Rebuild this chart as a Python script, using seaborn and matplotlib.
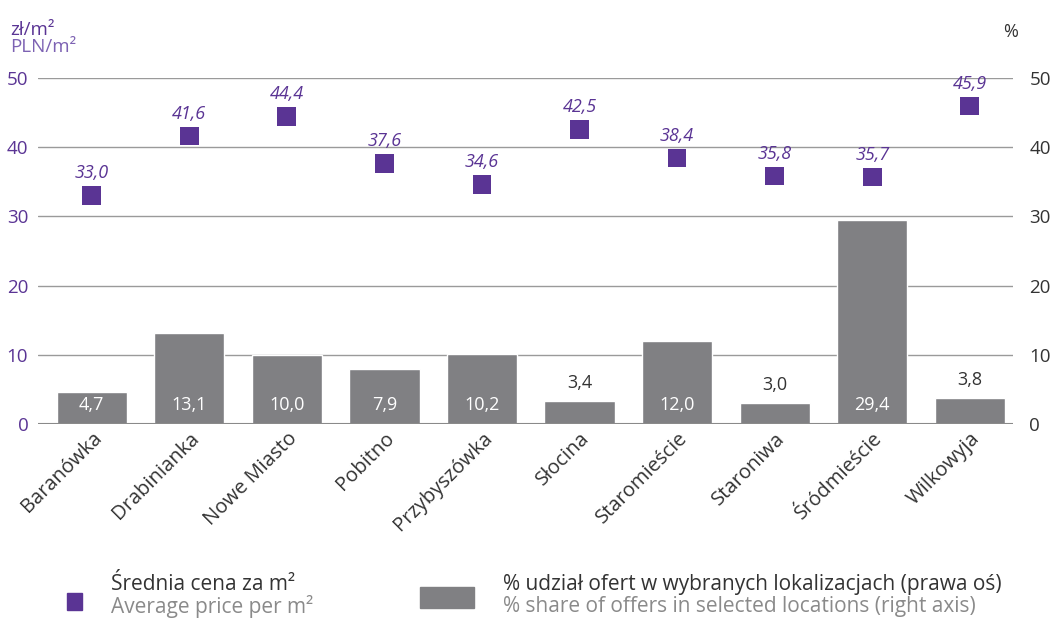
import numpy as np
import pandas as pd
import matplotlib
matplotlib.use("Agg")
import matplotlib.pyplot as plt
import seaborn as sns
from matplotlib.patches import Rectangle

# dane
dzielnice = ['Baranówka', 'Drabinianka', 'Nowe Miasto', 'Pobitno', 'Przybyszówka',
             'Słocina', 'Staromieście', 'Staroniwa', 'Śródmieście', 'Wilkowyja']
srednia_cena = [33.0, 41.6, 44.4, 37.6, 34.6, 42.5, 38.4, 35.8, 35.7, 45.9]
udzial_ofert = [4.7, 13.1, 10.0, 7.9, 10.2, 3.4, 12.0, 3.0, 29.4, 3.8]
y_ticks = [0, 10, 20, 30, 40, 50]

FIOLET = '#5a3494'
FIOLET_JASNY = '#7d62b3'
SZARY = '#808083'
TEKST = '#333333'

sns.set_theme(style="white")
plt.rcParams['font.family'] = ['Open Sans', 'DejaVu Sans']

df = pd.DataFrame({'Dzielnica': dzielnice, 'Cena': srednia_cena, 'Udzial': udzial_ofert})

fig = plt.figure(figsize=(10.56, 6.22), dpi=100)
ax = fig.add_axes([0.036, 0.318, 0.923, 0.557])
ax2 = ax.twinx()

# slupki - prawa os (%)
sns.barplot(data=df, x='Dzielnica', y='Udzial', color=SZARY, width=0.72,
            saturation=1, ax=ax2, zorder=2)

# punkty - lewa os (zl/m2)
sns.scatterplot(data=df, x='Dzielnica', y='Cena', marker='s', s=180, color=FIOLET,
                edgecolor='none', ax=ax, zorder=5)

ax.set_zorder(ax2.get_zorder() + 1)
ax.patch.set_visible(False)

for a in (ax, ax2):
    a.set_ylim(0, 50)
    a.set_xlim(-0.55, 9.44)
    a.set_yticks(y_ticks)
    a.set_xlabel('')
    a.set_ylabel('')
    for s in a.spines.values():
        s.set_visible(False)
    a.grid(False)

# linie siatki
for t in y_ticks[1:]:
    ax2.axhline(t, color='#9a9a9a', lw=1, zorder=0)
ax2.axhline(0, color='#8a8a8a', lw=1.5, zorder=3)

ax.tick_params(axis='y', length=0, pad=7, labelsize=13.5, labelcolor=FIOLET)
ax2.tick_params(axis='y', length=0, pad=12, labelsize=13.5, labelcolor=TEKST)
ax.tick_params(axis='x', length=0, pad=3, labelsize=14.5, labelcolor=TEKST)
plt.setp(ax.get_xticklabels(), rotation=45, ha='right', rotation_mode='anchor')
ax2.tick_params(axis='x', length=0, labelbottom=False)

# etykiety slupkow
for i, v in enumerate(udzial_ofert):
    txt = f"{v:.1f}".replace('.', ',')
    if v >= 4:
        ax2.annotate(txt, (i, 0), xytext=(0, 14), textcoords='offset points',
                     ha='center', va='center', color='white', fontsize=13, zorder=4)
    else:
        ax2.annotate(txt, (i, v), xytext=(0, 13), textcoords='offset points',
                     ha='center', va='center', color=TEKST, fontsize=13, zorder=4)

# etykiety cen
for i, v in enumerate(srednia_cena):
    txt = f"{v:.1f}".replace('.', ',')
    ax.annotate(txt, (i, v), xytext=(0, 16), textcoords='offset points',
                ha='center', va='center', color=FIOLET, fontsize=13, style='italic')

# jednostki osi
fig.text(0.010, 0.952, 'zł/m²', color=FIOLET, fontsize=13.5, va='center')
fig.text(0.010, 0.924, 'PLN/m²', color=FIOLET_JASNY, fontsize=13.5, va='center')
fig.text(0.950, 0.948, '%', color=TEKST, fontsize=13, va='center')

# legenda
fig.add_artist(Rectangle((0.063, 0.020), 0.015, 0.026, transform=fig.transFigure,
                         color=FIOLET))
fig.text(0.105, 0.061, 'Średnia cena za m²', color=TEKST, fontsize=15, va='center')
fig.text(0.105, 0.025, 'Average price per m²', color='#8a8a8a', fontsize=15, va='center')
fig.add_artist(Rectangle((0.398, 0.022), 0.051, 0.034, transform=fig.transFigure,
                         color=SZARY))
fig.text(0.476, 0.061, '% udział ofert w wybranych lokalizacjach (prawa oś)',
         color=TEKST, fontsize=15, va='center')
fig.text(0.476, 0.025, '% share of offers in selected locations (right axis)',
         color='#8a8a8a', fontsize=15, va='center')

fig.savefig('out.png', dpi=100)
